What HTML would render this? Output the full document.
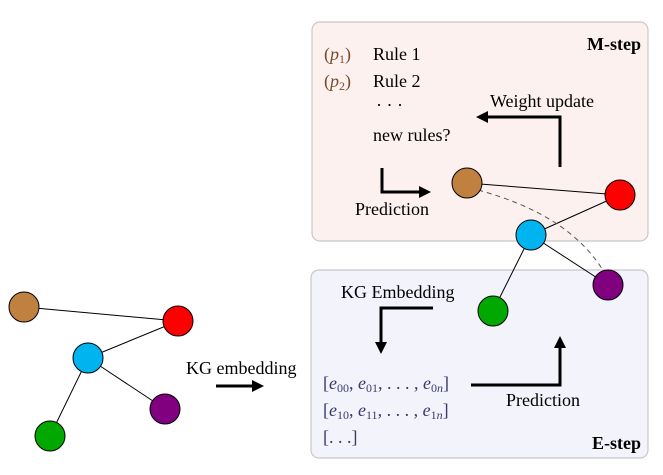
<!DOCTYPE html>
<html><head><meta charset="utf-8"><style>
html,body{margin:0;padding:0;background:#fff;}
svg{display:block;}
text{font-family:"Liberation Serif",serif;font-size:18px;fill:#000;}
.m{fill:#7a4a2a;}
.e{fill:#3a3a6a;}
</style></head><body>
<svg width="663" height="475" viewBox="0 0 663 475">
<defs>
<marker id="ah" markerWidth="4" markerHeight="4" refX="2" refY="2" orient="auto" markerUnits="strokeWidth"><path d="M0,0 L4,2 L0,4 Z" fill="#000"/></marker>
</defs>
<rect x="312" y="22" width="336" height="219" rx="8" fill="#fdf1f0" stroke="#c8c8c8" stroke-width="1.2"/>
<rect x="311" y="270" width="337" height="188" rx="8" fill="#f3f3fc" stroke="#c8c8c8" stroke-width="1.2"/>
<text x="641" y="50" text-anchor="end" font-weight="bold" style="font-size:18px">M-step</text>
<text x="641" y="449" text-anchor="end" font-weight="bold" style="font-size:18px">E-step</text>
<text x="324" y="60" class="m">(<tspan font-style="italic">p</tspan><tspan font-size="12" dy="3">1</tspan><tspan dy="-3">)</tspan></text>
<text x="373" y="60">Rule 1</text>
<text x="324" y="87" class="m">(<tspan font-style="italic">p</tspan><tspan font-size="12" dy="3">2</tspan><tspan dy="-3">)</tspan></text>
<text x="373" y="87">Rule 2</text>
<text x="376" y="111">· · ·</text>
<text x="373" y="141">new rules?</text>
<text x="490" y="107">Weight update</text>
<path d="M560,167 L560,117 L482,117" fill="none" stroke="#000" stroke-width="3" marker-end="url(#ah)"/>
<path d="M382,168 L382,192 L425,192" fill="none" stroke="#000" stroke-width="3" marker-end="url(#ah)"/>
<text x="355" y="215">Prediction</text>
<text x="341" y="298">KG Embedding</text>
<path d="M433,308 L381,308 L381,348" fill="none" stroke="#000" stroke-width="3" marker-end="url(#ah)"/>
<text x="323" y="389" class="e">[<tspan font-style="italic">e</tspan><tspan font-size="12" dy="3">00</tspan><tspan dy="-3">, </tspan><tspan font-style="italic">e</tspan><tspan font-size="12" dy="3">01</tspan><tspan dy="-3">, . . . , </tspan><tspan font-style="italic">e</tspan><tspan font-size="12" dy="3">0<tspan font-style="italic">n</tspan></tspan><tspan dy="-3">]</tspan></text>
<text x="323" y="416" class="e">[<tspan font-style="italic">e</tspan><tspan font-size="12" dy="3">10</tspan><tspan dy="-3">, </tspan><tspan font-style="italic">e</tspan><tspan font-size="12" dy="3">11</tspan><tspan dy="-3">, . . . , </tspan><tspan font-style="italic">e</tspan><tspan font-size="12" dy="3">1<tspan font-style="italic">n</tspan></tspan><tspan dy="-3">]</tspan></text>
<text x="323" y="443" class="e">[. . .]</text>
<path d="M471,385 L560,385 L560,342" fill="none" stroke="#000" stroke-width="3" marker-end="url(#ah)"/>
<text x="506" y="406">Prediction</text>
<text x="186" y="374">KG embedding</text>
<path d="M216,386 L258,386" fill="none" stroke="#000" stroke-width="3" marker-end="url(#ah)"/>
<g stroke="#000" stroke-width="1">
<line x1="24" y1="307" x2="178" y2="321"/><line x1="178" y1="321" x2="88" y2="358"/>
<line x1="88" y1="358" x2="165" y2="409"/><line x1="88" y1="358" x2="50" y2="436"/>
<circle cx="24" cy="307" r="15" fill="#bf8040"/>
<circle cx="178" cy="321" r="15" fill="#ff0000"/>
<circle cx="88" cy="358" r="15" fill="#00b4f0"/>
<circle cx="165" cy="409" r="15" fill="#800080"/>
<circle cx="50" cy="436" r="15" fill="#00a800"/>
</g>
<g stroke="#000" stroke-width="1">
<line x1="467" y1="183" x2="620" y2="195"/><line x1="620" y1="195" x2="531" y2="235"/>
<line x1="531" y1="235" x2="608" y2="285"/><line x1="531" y1="235" x2="493" y2="311"/>
<path d="M478,190 Q570,215 604,272" fill="none" stroke="#555" stroke-dasharray="5,4"/>
<circle cx="467" cy="183" r="15" fill="#bf8040"/>
<circle cx="620" cy="195" r="15" fill="#ff0000"/>
<circle cx="531" cy="235" r="15" fill="#00b4f0"/>
<circle cx="608" cy="285" r="15" fill="#800080"/>
<circle cx="493" cy="311" r="15" fill="#00a800"/>
</g>
</svg>
</body></html>
